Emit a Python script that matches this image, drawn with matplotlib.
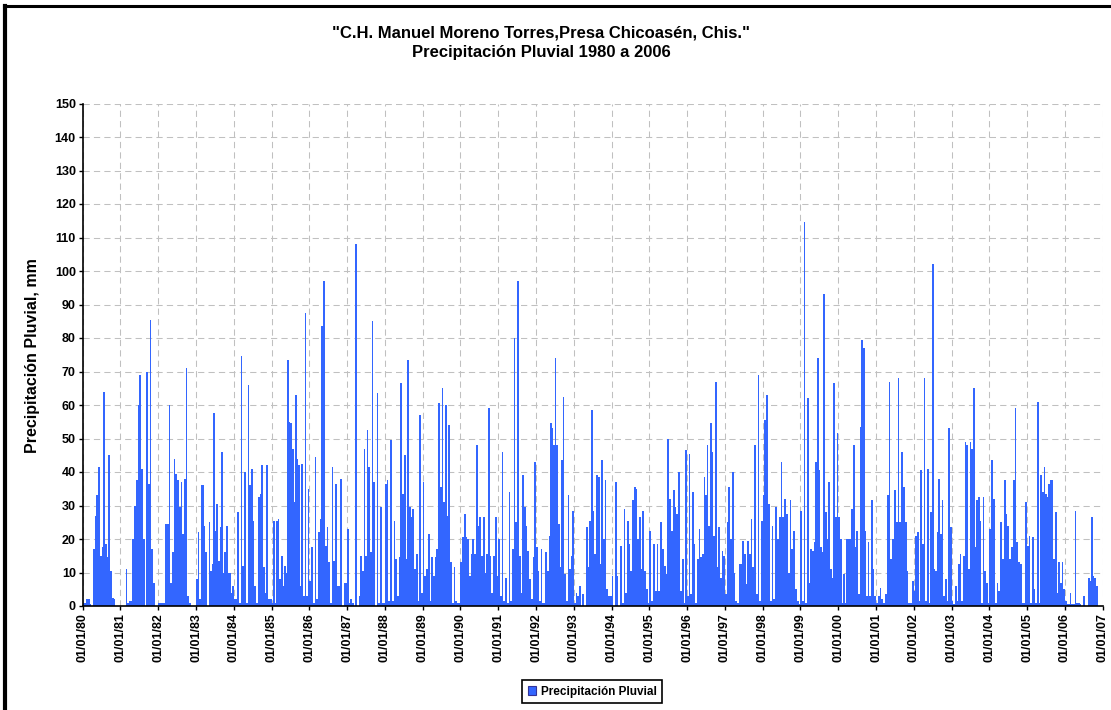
import matplotlib
matplotlib.use('Agg')
import matplotlib.pyplot as plt
from matplotlib.lines import Line2D
from matplotlib.patches import Patch

plt.rcParams['font.family'] = ['Liberation Sans', 'DejaVu Sans']

# --- DATA: precipitacion (mm), barras en orden dentro de cada año ---
p1980 = [1, 1, 2, 2, 0.5, 0, 17, 27, 33, 41.5, 15, 17.5, 64, 18.5, 14.5, 45, 10.5, 2.5, 2, 0, 0, 0]
p1981 = [0, 0, 0, 11, 1, 1.5, 1.5, 20, 30, 37.5, 60, 69, 41, 20, 0, 70, 36.5, 85.5, 17, 7, 0, 0]
p1982 = [1, 1, 1, 1, 24.5, 24.5, 60, 7, 16, 44, 39.5, 37.5, 29.5, 37, 21.5, 38, 71, 3, 1, 0, 0, 0]
p1983 = [8, 22, 2, 36, 36, 24, 16, 0, 25, 10.5, 12.5, 57.5, 22.5, 30.5, 13.5, 23.5, 46, 10, 16, 24, 10, 10, 4, 6]
p1984 = [2, 2, 28, 1, 74.5, 12, 40, 1, 66, 36, 41, 25.5, 6, 1, 32.5, 33.5, 42, 11.5, 4, 42, 2, 2]
p1985 = [1, 25.5, 1, 25.5, 26, 8, 15, 6, 12, 10, 73.5, 55, 54.5, 47, 31, 63, 44, 42, 6, 42.5, 3, 87.5, 3, 35]
p1986 = [7.5, 17.5, 1, 44.5, 2, 22, 26, 83.5, 97, 18, 23.5, 13, 1, 41.5, 13.5, 36.5, 6, 6, 38, 0, 7, 7]
p1987 = [23, 1, 2, 1, 0, 108, 0, 3, 15, 10.5, 47, 15, 52.5, 41.5, 16, 85, 37, 0, 63.5, 1, 29.5, 1, 1]
p1988 = [36.5, 37.5, 1.5, 49.5, 1.5, 25.5, 14, 3, 14.5, 66.5, 33.5, 45, 14, 73.5, 29.5, 26.5, 29, 11, 15.5, 1.5, 57, 4]
p1989 = [37, 9, 11, 21.5, 1.5, 14.5, 9, 14.5, 17, 60.5, 35.5, 65, 31, 60, 27, 54, 13, 1, 11.5, 1.5, 1, 1]
p1990 = [13, 20.5, 27.5, 20.5, 20, 9, 15.5, 20, 15.5, 48, 24, 26.5, 15, 26.5, 10, 15.5, 59, 15, 4, 15, 26.5, 9]
p1991 = [20, 3, 46, 1.5, 8.5, 1, 34, 1.5, 17, 80, 25, 97, 15, 4, 39, 29.5, 24, 16.5, 8, 2, 14.5, 43]
p1992 = [17.5, 10.5, 1.5, 17, 1, 1, 16, 10.5, 21, 54.5, 53, 48, 74, 48, 24.5, 11.5, 43.5, 62.5, 9.5, 1.5, 33, 11, 15, 28.5]
p1993 = [1, 4, 3, 6, 0, 3.5, 0, 23.5, 11.5, 25.5, 58.5, 28.5, 15.5, 39, 38.5, 12.5, 43.5, 20, 37.5, 5, 3, 3]
p1994 = [9, 0, 37, 9, 0, 18, 1, 29, 4, 25.5, 18.5, 10.5, 31.5, 35.5, 35, 20, 26.5, 11, 28.5, 10.5, 5, 1]
p1995 = [22.5, 1.5, 18.5, 4.5, 18.5, 4.5, 25, 17, 12, 9.5, 50, 32, 22.5, 34.5, 29.5, 27.5, 40, 4.5, 14, 1, 46.5]
p1996 = [3, 45.5, 3.5, 34, 18.5, 1, 14, 23, 14.5, 15.5, 38.5, 33, 48, 24, 54.5, 46, 21, 67, 11.5, 23.5, 8.5, 16.5, 15]
p1997 = [3.5, 25, 35.5, 20, 40, 10, 1.5, 1, 12.5, 12.5, 19.5, 15.5, 6.5, 19.5, 15.5, 26, 11.5, 48, 3.5, 69, 1.5, 25.5]
p1998 = [33, 55.5, 63, 30.5, 1.5, 24, 2, 29.5, 20, 26.5, 43, 26.5, 32, 27.5, 10, 31.5, 17, 22.5, 5, 1.5, 0.5]
p1999 = [28.5, 1.5, 114.5, 1, 62, 7, 17, 16.5, 19, 43, 74, 40.5, 17.5, 16, 93, 28, 20, 37, 11, 8.5, 66.5, 26.5, 51.5]
p2000 = [26.5, 20, 1, 9.5, 1, 20, 20, 20, 29, 48, 17.5, 22.5, 3.5, 53.5, 79.5, 77, 22.5, 3, 19, 3, 31.5, 11, 3]
p2001 = [1, 3, 5.5, 2, 1, 3.5, 33, 67, 14, 20, 34.5, 25, 68, 25, 46, 35.5, 25, 10.5, 1, 1, 7.5]
p2002 = [4.5, 21, 22, 1.5, 40.5, 18.5, 68, 1.5, 41, 1, 28, 102, 11, 10.5, 22, 38, 21.5, 31.5, 3, 8, 1.5, 53, 23.5]
p2003 = [1.5, 0.5, 6, 1.5, 12.5, 15.5, 1.5, 15, 49, 48, 11, 49, 47, 65, 17.5, 31.5, 32.5, 25.5, 1, 32.5, 10.5, 7, 1]
p2004 = [23, 43.5, 32, 1, 7, 4.5, 25, 14, 37.5, 27.5, 24, 14, 17.5, 37.5, 59, 19, 13, 12.5, 1, 1, 31]
p2005 = [18, 21, 1, 20.5, 5, 1, 61, 1, 39, 34, 41.5, 33.5, 32.5, 36.5, 37.5, 37.5, 14, 28, 4, 13, 7, 13, 5]
p2006 = [1.5, 0.5, 0.5, 4, 0.5, 0.5, 28.5, 1, 1, 0.5, 0, 3, 0, 0, 8.5, 7.5, 26.5, 9, 8.5, 6, 0, 0, 0]

years = list(range(1980, 2007))
series = [p1980, p1981, p1982, p1983, p1984, p1985, p1986, p1987, p1988,
          p1989, p1990, p1991, p1992, p1993, p1994, p1995, p1996, p1997,
          p1998, p1999, p2000, p2001, p2002, p2003, p2004, p2005, p2006]

# spread each year's bars evenly over the year
x_vals, y_vals, w_vals = [], [], []
for yr, vals in zip(years, series):
    n = len(vals)
    for i, v in enumerate(vals):
        x_vals.append(yr + (i + 0.5) / n)
        y_vals.append(v)
        w_vals.append(1.0 / n)

BLUE = '#3366ff'

fig = plt.figure(figsize=(11.11, 7.10), dpi=100)
ax = fig.add_axes([82.7 / 1111, 1 - 606 / 710, 1020 / 1111, 502.5 / 710])

ax.bar(x_vals, y_vals, width=w_vals, color=BLUE, linewidth=0, zorder=3)

ax.set_xlim(1980, 2007)
ax.set_ylim(0, 150)
ax.set_yticks(range(0, 151, 10))
xt = list(range(1980, 2008))
ax.set_xticks(xt)
ax.set_xticklabels([f"01/01/{y % 100:02d}" for y in xt], rotation=90)

ax.grid(True, color='#c0c0c0', linestyle=(0, (6, 4)), linewidth=0.75)
ax.set_axisbelow(True)
for s in ['top', 'right']:
    ax.spines[s].set_visible(False)
for s in ['left', 'bottom']:
    ax.spines[s].set_linewidth(1.2)
    ax.spines[s].set_zorder(4)

ax.tick_params(direction='out', length=3, width=1, labelsize=9, pad=2, colors='black')
for lab in ax.get_xticklabels() + ax.get_yticklabels():
    lab.set_fontweight('bold')

# titles
fig.text(541 / 1111, 1 - 33 / 710, '"C.H. Manuel Moreno Torres,Presa Chicoasén, Chis."',
         ha='center', va='center', fontsize=12, fontweight='bold')
fig.text(541 / 1111, 1 - 53 / 710, 'Precipitación Pluvial 1980 a 2006',
         ha='center', va='center', fontsize=12, fontweight='bold')
fig.text(33 / 1111, 1 - 356 / 710, 'Precipitación Pluvial, mm', rotation=90,
         ha='center', va='center', fontsize=11.5, fontweight='bold')

# legend
leg = fig.legend(handles=[Patch(facecolor=BLUE, edgecolor='#333399', linewidth=0.8,
                                label='Precipitación Pluvial')],
                 loc='center', bbox_to_anchor=(592 / 1111, 1 - 691.5 / 710),
                 frameon=True, fancybox=False, framealpha=1, edgecolor='black',
                 prop={'weight': 'bold', 'size': 8.5}, handlelength=0.7, handleheight=0.7,
                 handletextpad=0.4, borderpad=0.45, borderaxespad=0)
leg.get_frame().set_linewidth(1.2)

# outer frame (top and left only)
fig.add_artist(Line2D([4 / 1111, 1], [1 - 6 / 710] * 2, color='black', lw=2.2))
fig.add_artist(Line2D([5 / 1111] * 2, [0, 1 - 6 / 710], color='black', lw=3))

fig.savefig('out.png', dpi=100)
